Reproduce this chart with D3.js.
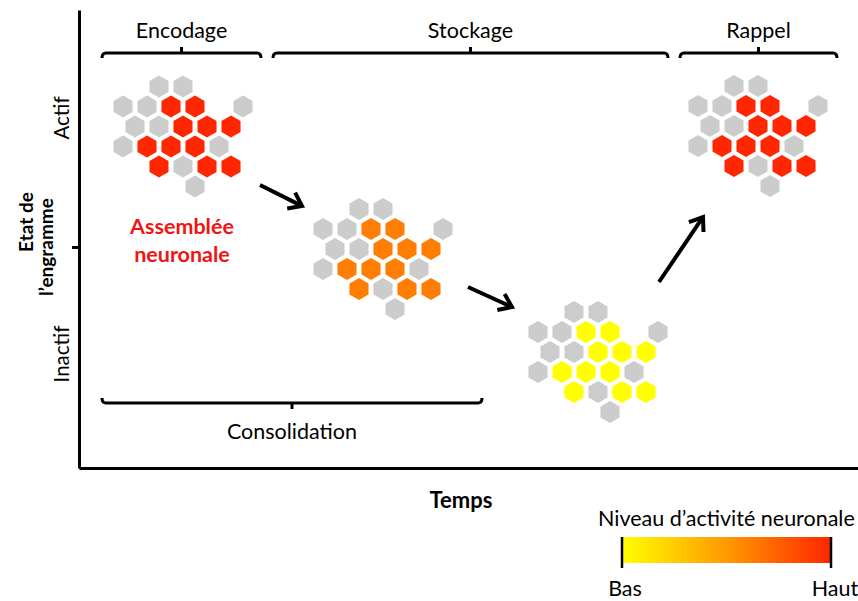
<!DOCTYPE html>
<html><head><meta charset="utf-8">
<script src="https://cdn.jsdelivr.net/npm/d3@7"></script>
<style>
html,body{margin:0;padding:0;background:#fff;}
text{font-family:Lato,"Open Sans",sans-serif;}
</style></head>
<body><svg id="c" width="858" height="601"></svg>
<script>
// ---- data ----
// hexagon cells of the neuronal assembly (same pattern at each stage)
const cellRow    = [0,0, 1,1,1,1,1, 2,2,2,2,2, 3,3,3,3,3, 4,4,4,4, 5];
const cellCol    = [1,2, 0,1,2,3,5, 0,1,2,3,4, 0,1,2,3,4, 1,2,3,4, 3];
const cellActive = [0,0, 0,0,1,1,0, 0,0,1,1,1, 0,1,1,1,0, 1,0,1,1, 0];
// the four snapshots: time position, engram state, activity level (0 = low, 1 = high)
const clusterTime  = [44, 244, 459, 619];
const clusterState = [381.5, 259, 156, 382];
const clusterLevel = [1, 0.62, 0, 1];
// phase brackets
const phaseNames = ["Encodage", "Stockage", "Rappel", "Consolidation"];
const phaseStart = [23, 194, 601, 23];
const phaseEnd   = [182, 589, 758, 403];
const phaseState = [415, 415, 415, 65];
const phaseSide  = ["top", "top", "top", "bottom"];
// arrows between the snapshots
const arrowFromT = [181, 389, 580];
const arrowFromS = [283, 181, 186];
const arrowToT   = [223, 433, 624];
const arrowToS   = [262, 161, 251];
// axis
const yTickValues = [221];
const yLabels = ["Actif", "Inactif"];
const yLabelState = [350, 114];
const legendTicks = ["Bas", "Haut"];
const legendTickValues = [0, 1];

// ---- scales ----
const x = d3.scaleLinear().domain([0, 779]).range([79, 858]);
const y = d3.scaleLinear().domain([0, 458]).range([468, 10]);
const activity = d3.scaleLinear().domain([0, 0.5, 1]).range(["#FFFF00", "#FF9900", "#FF2600"]);
const hexX = (r, c) => c * 24 + (r % 2 === 0 ? 12 : 0);
const hexY = r => r * 20;

const svg = d3.select("#c");
const FS = 21.5;

// ---- axes ----
const yAxis = svg.append("g").attr("transform", `translate(${x(0)},0)`)
  .call(d3.axisLeft(y).tickValues(yTickValues).tickSize(7).tickSizeOuter(0).tickFormat(""));
yAxis.selectAll("path,line").attr("stroke", "#000").attr("stroke-width", 3);
const xAxis = svg.append("g").attr("transform", `translate(0,${y(0)})`)
  .call(d3.axisBottom(x).tickValues([]).tickSizeOuter(0));
xAxis.selectAll("path").attr("stroke", "#000").attr("stroke-width", 3);

svg.selectAll("text.ylab").data(yLabels).join("text")
  .attr("transform", (d, i) => `translate(69,${y(yLabelState[i])}) rotate(-90)`)
  .attr("text-anchor", "middle").attr("font-size", 20.5).text(d => d);

const yTitle = svg.append("text").attr("transform", `translate(0,${y(yTickValues[0])}) rotate(-90)`)
  .attr("text-anchor", "middle").attr("font-weight", "bold").attr("font-size", 19);
yTitle.append("tspan").attr("x", 25).attr("y", 33).text("Etat de");
yTitle.append("tspan").attr("x", 0).attr("y", 53).text("l\u2019engramme");

svg.append("text").attr("x", 461).attr("y", 508).attr("text-anchor", "middle")
  .attr("font-weight", "bold").attr("font-size", 22).text("Temps");

// ---- hexagon clusters ----
const R = 11;
const hexPath = d3.range(6).map(k => {
  const a = Math.PI / 3 * k - Math.PI / 2;
  return [R * Math.cos(a), R * Math.sin(a)];
});
const hexD = "M" + hexPath.map(p => p.join(",")).join("L") + "Z";

clusterTime.forEach((t, ci) => {
  const g = svg.append("g").attr("transform", `translate(${x(t)},${y(clusterState[ci])})`);
  g.selectAll("path").data(cellRow).join("path")
    .attr("d", hexD)
    .attr("transform", (r, i) => `translate(${hexX(r, cellCol[i])},${hexY(r)})`)
    .attr("fill", (r, i) => cellActive[i] ? activity(clusterLevel[ci]) : "#CCCCCC");
});

// ---- phase brackets ----
phaseNames.forEach((name, i) => {
  const x0 = x(phaseStart[i]), x1 = x(phaseEnd[i]), yy = y(phaseState[i]);
  const dir = phaseSide[i] === "top" ? 1 : -1; // ends curl away from label
  const xm = (x0 + x1) / 2;
  const p = d3.path();
  p.moveTo(x0, yy + 5 * dir);
  p.quadraticCurveTo(x0, yy, x0 + 4, yy);
  p.lineTo(x1 - 4, yy);
  p.quadraticCurveTo(x1, yy, x1, yy + 5 * dir);
  p.moveTo(xm, yy);
  p.lineTo(xm, yy - 6 * dir);
  svg.append("path").attr("d", p.toString()).attr("fill", "none")
    .attr("stroke", "#000").attr("stroke-width", 3);
  svg.append("text").attr("x", xm).attr("y", dir === 1 ? yy - 15 : yy + 36)
    .attr("text-anchor", "middle").attr("font-size", FS).text(name);
});

// ---- arrows ----
arrowFromT.forEach((t, i) => {
  const x0 = x(t), y0 = y(arrowFromS[i]), x1 = x(arrowToT[i]), y1 = y(arrowToS[i]);
  const ang = Math.atan2(y1 - y0, x1 - x0);
  const L = 15, sp = Math.PI / 5;
  const a1 = [x1 - L * Math.cos(ang - sp), y1 - L * Math.sin(ang - sp)];
  const a2 = [x1 - L * Math.cos(ang + sp), y1 - L * Math.sin(ang + sp)];
  svg.append("line").attr("x1", x0).attr("y1", y0).attr("x2", x1 - 2 * Math.cos(ang)).attr("y2", y1 - 2 * Math.sin(ang))
    .attr("stroke", "#000").attr("stroke-width", 4);
  svg.append("path").attr("d", `M${a1}L${x1},${y1}L${a2}`).attr("fill", "none")
    .attr("stroke", "#000").attr("stroke-width", 4).attr("stroke-linejoin", "miter");
});

// ---- assembly label ----
const asm = svg.append("text").attr("text-anchor", "middle").attr("fill", "#F01414")
  .attr("font-weight", "bold").attr("font-size", 21.5);
asm.append("tspan").attr("x", 182).attr("y", 234).text("Assemblée");
asm.append("tspan").attr("x", 182).attr("y", 262).text("neuronale");

// ---- legend ----
const lx = d3.scaleLinear().domain([0, 1]).range([622, 831]);
const defs = svg.append("defs");
const grad = defs.append("linearGradient").attr("id", "lg");
[0, 0.5, 1].forEach(v => grad.append("stop").attr("offset", v).attr("stop-color", activity(v)));
svg.append("rect").attr("x", lx(0)).attr("y", 537).attr("width", lx(1) - lx(0)).attr("height", 26)
  .attr("fill", "url(#lg)");
svg.selectAll("line.lt").data(legendTickValues).join("line")
  .attr("x1", d => lx(d)).attr("x2", d => lx(d)).attr("y1", 537).attr("y2", 568)
  .attr("stroke", "#000").attr("stroke-width", 2.5);
svg.selectAll("text.ltl").data(legendTicks).join("text")
  .attr("x", (d, i) => lx(legendTickValues[i]) + (i === 1 ? 4 : 3)).attr("y", 596).attr("text-anchor", "middle")
  .attr("font-size", FS).text(d => d);
svg.append("text").attr("x", 598).attr("y", 526).attr("font-size", FS).text("Niveau d\u2019activité neuronale");
</script></body></html>
